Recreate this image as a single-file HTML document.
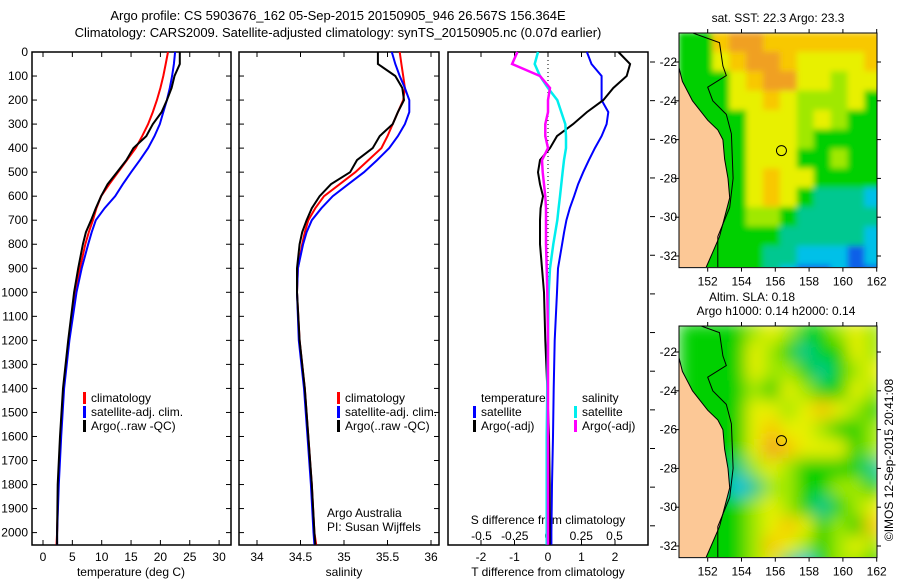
<!DOCTYPE html>
<html><head><meta charset="utf-8"><style>
body{margin:0;background:#fff}
svg{display:block;font-family:"Liberation Sans",sans-serif}
text{fill:#000}
</style></head><body>
<svg id="fig" width="900" height="580" viewBox="0 0 900 580" xmlns="http://www.w3.org/2000/svg">
<defs>
<filter id="blurTop" x="0" y="0" width="1" height="1"><feGaussianBlur stdDeviation="3" edgeMode="duplicate"/></filter>
<filter id="blurBot" x="0" y="0" width="1" height="1"><feGaussianBlur stdDeviation="8" edgeMode="duplicate"/></filter>
<clipPath id="clipTop"><rect x="679" y="33" width="198" height="234"/></clipPath>
<clipPath id="clipBot"><rect x="679" y="326" width="198" height="231"/></clipPath>
</defs>
<text x="338" y="20" font-size="13" text-anchor="middle">Argo profile: CS 5903676_162 05-Sep-2015 20150905_946 26.567S 156.364E</text>
<text x="338" y="37" font-size="13" text-anchor="middle">Climatology: CARS2009. Satellite-adjusted climatology: synTS_20150905.nc (0.07d earlier)</text>
<g id="p1"></g>
<g id="p2"></g>
<g id="p3"></g>
<g id="m1"></g>
<g id="m2"></g>
<text x="778" y="22" font-size="12" text-anchor="middle">sat. SST: 22.3 Argo: 23.3</text>
<text x="752" y="301" font-size="12" text-anchor="middle">Altim. SLA: 0.18</text>
<text x="776" y="315" font-size="12" text-anchor="middle">Argo h1000: 0.14 h2000: 0.14</text>
<text transform="translate(893,460) rotate(-90)" font-size="12" text-anchor="middle">©IMOS 12-Sep-2015 20:41:08</text>
</svg>
<script>
const depths=[0,50,100,150,200,250,300,350,400,450,500,550,600,650,700,750,800,900,1000,1200,1400,1600,1800,2000,2050];
const tempClim=[21.3,20.9,20.5,20.0,19.4,18.7,17.9,16.9,15.8,14.3,12.8,11.3,9.9,9.1,8.5,7.8,7.2,6.3,5.6,4.4,3.5,3.0,2.6,2.4,2.3];
const tempSat=[22.5,22.3,22.0,21.6,21.1,20.5,19.9,19.0,17.9,16.5,15.0,13.6,12.3,10.5,9.0,8.3,7.7,6.6,5.7,4.5,3.6,3.1,2.7,2.4,2.4];
const tempArgo=[23.3,23.3,22.4,21.9,21.1,20.2,18.7,17.6,15.4,14.2,12.6,11.0,9.9,9.0,8.2,7.3,6.8,6.0,5.3,4.3,3.4,2.9,2.5,2.4,2.4];
const salClim=[35.64,35.66,35.68,35.70,35.68,35.62,35.56,35.50,35.43,35.28,35.13,34.95,34.77,34.67,34.59,34.55,34.52,34.47,34.46,34.49,34.55,34.59,34.63,34.66,34.68];
const salSat=[35.55,35.59,35.64,35.70,35.75,35.75,35.70,35.62,35.52,35.38,35.23,35.05,34.87,34.74,34.63,34.57,34.53,34.47,34.46,34.48,34.54,34.58,34.62,34.65,34.66];
const salArgo=[35.39,35.39,35.59,35.67,35.69,35.62,35.56,35.41,35.33,35.15,35.07,34.85,34.72,34.63,34.57,34.52,34.49,34.46,34.46,34.49,34.55,34.59,34.63,34.66,34.67];
const dTsat=[1.16,1.3,1.6,1.6,1.6,1.8,1.75,1.6,1.4,1.22,1.05,0.9,0.78,0.65,0.55,0.48,0.42,0.3,0.27,0.2,0.17,0.15,0.12,0.1,0.1];
const dTargo=[2.1,2.45,2.35,1.95,1.65,1.16,0.75,0.27,0.06,-0.24,-0.3,-0.24,-0.15,-0.22,-0.24,-0.24,-0.24,-0.18,-0.12,-0.08,-0.02,0.03,0.05,0.05,0.05];
const dSsat=[-0.075,-0.1,-0.06,0,0.07,0.1,0.13,0.135,0.135,0.12,0.11,0.1,0.09,0.08,0.07,0.055,0.04,0.015,0.005,0,-0.005,-0.01,-0.01,-0.01,-0.01];
const dSargo=[-0.23,-0.27,-0.06,0.015,0,0,-0.02,-0.02,0,-0.045,-0.04,-0.03,-0.02,-0.015,-0.015,-0.015,-0.015,-0.01,-0.005,0,0,0,0,0,0];
const depthTicks=[0,100,200,300,400,500,600,700,800,900,1000,1100,1200,1300,1400,1500,1600,1700,1800,1900,2000];
const tempTicks=[0,5,10,15,20,25,30];
const salTicks=[34,34.5,35,35.5,36];
const dTTicks=[-2,-1,0,1,2];
const dSTicks=[-0.5,-0.25,0,0.25,0.5];
const lonTicks=[152,154,156,158,160,162];
const latTicks=[-22,-24,-26,-28,-30,-32];
const argoLon=156.364, argoLat=-26.567;
const sstGrid=["GGoOOooooooo","GGYoOOoYYYYo","GGGYoOOYYLYY","GGGYYoYLLLYG","GGGGYYYLYLGG","GGGGYYYLGGGG","GGGGYYYGGLGG","GGGGYoYYGGGG","GGGGYoYGTTTC","GGGGLLGTTTTT","GGGGGGTTTTTC","GGGGGTTCCCBC","GGGGGTCBBCBB"];
const slaGrid=["GGGGLYLGGLYL","GGGGYLGTGGYL","GGGGYLLGTGLY","GGGGLGYLGGYL","GGGGYYLYoYLG","GGGGYoYYLGGL","GGGGYOoYYYGL","GGGTLYLGGGGT","GGGCTLLGGLLG","GGGGLYLGTGLY","GGGGLYoYGLGo","GGGGLoYLGLYL","GGGGLYTCGLLG"];
const landLon=[150.3,150.5,151.1,152.0,152.6,152.9,153.0,153.2,153.3,153.0,152.7,152.2,151.9,150.3];
const landLat=[-22.3,-23,-24,-25,-25.5,-26,-27,-28,-29,-30,-31,-32,-32.6,-32.6];
const isoLon=[151.1,152.7,152.9,153.1,152.0,152.3,153.1,153.4,153.5,153.3,152.6,152.6];
const isoLat=[-20.5,-21.0,-22.2,-22.7,-23.3,-24,-24.7,-25.7,-28,-29.5,-31,-32.6];

const NS='http://www.w3.org/2000/svg';
function mk(parent,tag,attrs,txt){const e=document.createElementNS(NS,tag);for(const k in attrs)e.setAttribute(k,attrs[k]);if(txt!==undefined)e.textContent=txt;parent.appendChild(e);return e;}
const yD=d=>52+0.2403*d;
const xT=t=>43+5.87*t;
const xS=s=>257+87*(s-34);
const xdT=t=>548+33.5*t;
const xdS=s=>548+133*s;

function frame(g,x0,x1){let r=mk(g,'rect',{x:x0,y:52,width:x1-x0,height:493,fill:'none',stroke:'#000','stroke-width':1.5});}
function line(g,xs,xf,name,color,w){const pts=depths.map((d,i)=>xf(xs[i]).toFixed(1)+','+yD(d).toFixed(1)).join(' ');const p=mk(g,'polyline',{points:pts,fill:'none',stroke:color,'stroke-width':w,'stroke-linejoin':'miter'});}
function xticks(g,ticks,xf,labY,fmt){ticks.forEach(t=>{const x=xf(t);mk(g,'line',{x1:x,y1:52,x2:x,y2:57,stroke:'#000'});mk(g,'line',{x1:x,y1:545,x2:x,y2:540,stroke:'#000'});if(labY){const l=mk(g,'text',{x:x,y:labY,'font-size':12,'text-anchor':'middle'},fmt?fmt(t):t);}});}
function legend(g,x,y,items){items.forEach((it,i)=>{mk(g,'rect',{x:x,y:y+i*14-10,width:3,height:12,fill:it[1]});const t=mk(g,'text',{x:x+8,y:y+i*14,'font-size':12},it[0]);});}

// Panel 1
const p1=document.getElementById('p1');
frame(p1,32,231);
depthTicks.forEach(d=>{const y=yD(d);mk(p1,'line',{x1:32,y1:y,x2:37,y2:y,stroke:'#000'});mk(p1,'line',{x1:231,y1:y,x2:226,y2:y,stroke:'#000'});const t=mk(p1,'text',{x:28,y:y+4,'font-size':12,'text-anchor':'end'},d);});
xticks(p1,tempTicks,xT,561);
const tl=mk(p1,'text',{x:131,y:576,'font-size':12,'text-anchor':'middle'},'temperature (deg C)');
line(p1,tempClim,xT,'temp-climatology-line','#f00',2);
line(p1,tempSat,xT,'temp-satellite-line','#00f',2);
line(p1,tempArgo,xT,'temp-argo-line','#000',2);
legend(p1,83,402,[['climatology','#f00'],['satellite-adj. clim.','#00f'],['Argo(..raw -QC)','#000']]);

// Panel 2
const p2=document.getElementById('p2');
frame(p2,239,439);
depthTicks.forEach(d=>{const y=yD(d);mk(p2,'line',{x1:239,y1:y,x2:244,y2:y,stroke:'#000'});mk(p2,'line',{x1:439,y1:y,x2:434,y2:y,stroke:'#000'});});
xticks(p2,salTicks,xS,561);
const sl=mk(p2,'text',{x:344,y:576,'font-size':12,'text-anchor':'middle'},'salinity');
line(p2,salClim,xS,'sal-climatology-line','#f00',2);
line(p2,salSat,xS,'sal-satellite-line','#00f',2);
line(p2,salArgo,xS,'sal-argo-line','#000',2);
legend(p2,337,402,[['climatology','#f00'],['satellite-adj. clim.','#00f'],['Argo(..raw -QC)','#000']]);
mk(p2,'text',{x:327,y:517,'font-size':12},'Argo Australia');
mk(p2,'text',{x:327,y:531,'font-size':12},'PI: Susan Wijffels');

// Panel 3
const p3=document.getElementById('p3');
frame(p3,448,648);
mk(p3,'line',{x1:548,y1:52,x2:548,y2:300,stroke:'#000','stroke-dasharray':'1,3'});
for(let k=0;k<13;k++){const y=62+38.65*k;mk(p3,'line',{x1:650,y1:y,x2:655,y2:y,stroke:'#000'});}
xticks(p3,dTTicks,xdT,561);
dSTicks.forEach(s=>{const t=mk(p3,'text',{x:xdS(s),y:540,'font-size':12,'text-anchor':'middle'},s);});
mk(p3,'text',{x:548,y:524,'font-size':12,'text-anchor':'middle'},'S difference from climatology');
mk(p3,'text',{x:548,y:576,'font-size':12,'text-anchor':'middle'},'T difference from climatology');
line(p3,dTsat,xdT,'dT-satellite-line','#00f',2);
line(p3,dTargo,xdT,'dT-argo-line','#000',2);
line(p3,dSsat,xdS,'dS-satellite-line','#0ee',2.5);
line(p3,dSargo,xdS,'dS-argo-line','#f0f',2.5);
mk(p3,'text',{x:481,y:402,'font-size':12},'temperature');
mk(p3,'text',{x:582,y:402,'font-size':12},'salinity');
legend(p3,473,416,[['satellite','#00f'],['Argo(-adj)','#000']]);
legend(p3,574,416,[['satellite','#0ee'],['Argo(-adj)','#f0f']]);

// Maps
const colors={O:'#f0a020',o:'#f8c800',Y:'#e8f000',L:'#a0e800',G:'#00d000',T:'#00c890',C:'#00c0e8',B:'#1060e8'};
function drawMap(g,grid,top,lat22,lat32,clip,filt){
  const xL=lon=>707.7+16.9*(lon-152);
  const yL=lat=>lat22+(lat32-lat22)*(lat+22)/(-10);
  const fg=mk(g,'g',{'clip-path':'url(#'+clip+')'});
  const bg=mk(fg,'g',{filter:'url(#'+filt+')'});
  grid.forEach((row,r)=>{for(let c=0;c<row.length;c++){const lon0=150.3+c, lat0=-20.5-r;const x=xL(lon0),y=yL(lat0);mk(bg,'rect',{x:x-0.5,y:y-0.5,width:16.9+1,height:yL(lat0-1)-y+1,fill:colors[row[c]]});}});
  const lp=landLon.map((l,i)=>xL(l).toFixed(1)+','+yL(landLat[i]).toFixed(1)).join(' ');
  const land=mk(fg,'polygon',{points:lp,fill:'#fcc896',stroke:'#000','stroke-width':1});
  const ip=isoLon.map((l,i)=>xL(l).toFixed(1)+','+yL(isoLat[i]).toFixed(1)).join(' ');
  mk(fg,'polyline',{points:ip,fill:'none',stroke:'#000','stroke-width':1});
  const m=mk(g,'circle',{cx:xL(argoLon),cy:yL(argoLat),r:5,fill:'none',stroke:'#000','stroke-width':1});
  const b=yL(-32.6);
  mk(g,'rect',{x:679,y:top,width:198,height:b-top,fill:'none',stroke:'#000','stroke-width':1});
  lonTicks.forEach(l=>{const x=xL(l);mk(g,'line',{x1:x,y1:top,x2:x,y2:top-4,stroke:'#000'});mk(g,'line',{x1:x,y1:b,x2:x,y2:b+4,stroke:'#000'});const t=mk(g,'text',{x:x,y:b+18,'font-size':12,'text-anchor':'middle'},l);});
  latTicks.forEach(l=>{const y=yL(l);mk(g,'line',{x1:679,y1:y,x2:675,y2:y,stroke:'#000'});mk(g,'line',{x1:877,y1:y,x2:881,y2:y,stroke:'#000'});const t=mk(g,'text',{x:677,y:y+4,'font-size':12,'text-anchor':'end'},l);});
}
drawMap(document.getElementById('m1'),sstGrid,33,62,256,'clipTop','blurTop');
drawMap(document.getElementById('m2'),slaGrid,326,352,546,'clipBot','blurBot');
</script>
</body></html>
